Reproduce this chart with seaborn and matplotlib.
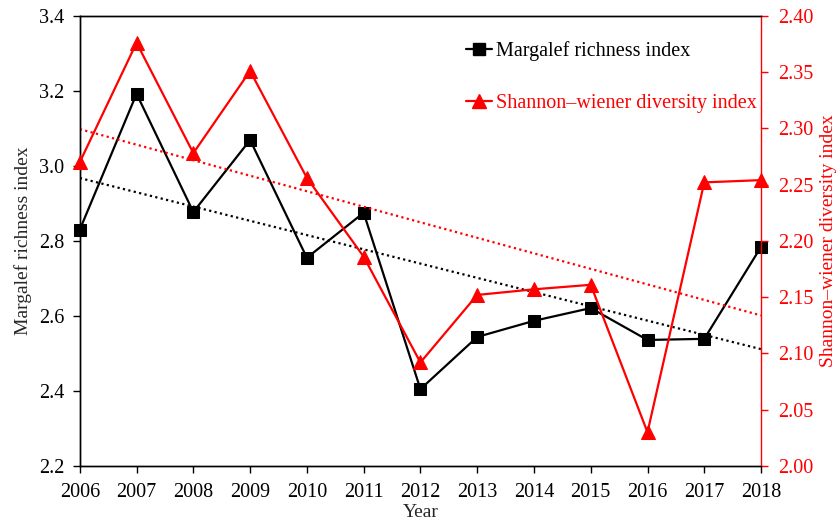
import numpy as np
import pandas as pd
import matplotlib
matplotlib.use("Agg")
import matplotlib.pyplot as plt
import seaborn as sns
from matplotlib.lines import Line2D

years = [2006, 2007, 2008, 2009, 2010, 2011, 2012, 2013, 2014, 2015, 2016, 2017, 2018]
margalef = [2.830, 3.192, 2.877, 3.069, 2.755, 2.875, 2.405, 2.544, 2.587, 2.621, 2.536, 2.539, 2.784]
shannon = [2.270, 2.376, 2.278, 2.351, 2.256, 2.186, 2.092, 2.152, 2.157, 2.161, 2.030, 2.252, 2.254]

df = pd.DataFrame({"Year": years, "Margalef": margalef, "Shannon": shannon})

sns.set_style("ticks")
plt.rcParams['font.family'] = ['Liberation Serif', 'DejaVu Serif']
plt.rcParams['font.size'] = 14

fig, ax = plt.subplots(figsize=(8.4, 5.26), dpi=100)
fig.subplots_adjust(left=0.095, right=0.906, top=0.97, bottom=0.114)
ax2 = ax.twinx()

# trend lines (least squares, dotted)
sns.regplot(data=df, x="Year", y="Margalef", ax=ax, scatter=False, ci=None,
            line_kws=dict(color="black", linestyle=(0, (1, 1.5)), linewidth=1.6))
sns.regplot(data=df, x="Year", y="Shannon", ax=ax2, scatter=False, ci=None,
            line_kws=dict(color="red", linestyle=(0, (1, 1.5)), linewidth=1.6))

sns.lineplot(data=df, x="Year", y="Margalef", ax=ax, color="black", marker="s",
             markersize=9, linewidth=1.6, markeredgecolor="black", clip_on=False, zorder=5)
sns.lineplot(data=df, x="Year", y="Shannon", ax=ax2, color="red", marker="^",
             markersize=10, linewidth=1.6, markeredgecolor="red", clip_on=False, zorder=5)

ax.set_xlim(2006, 2018)
ax.set_xticks(years)
ax.set_ylim(2.2, 3.4)
ax.set_yticks(np.arange(2.2, 3.41, 0.2))
ax.set_yticklabels([f"{v:.1f}" for v in np.arange(2.2, 3.41, 0.2)])
ax2.set_ylim(2.0, 2.4)
ax2.set_yticks(np.arange(2.0, 2.401, 0.05))
ax2.set_yticklabels([f"{v:.2f}" for v in np.arange(2.0, 2.401, 0.05)])

ax.set_xlabel("Year", fontsize=14, labelpad=2)
ax.set_ylabel("Margalef richness index", fontsize=14, labelpad=5)
ax2.set_ylabel("Shannon\u2013wiener diversity index", fontsize=14, color="red", labelpad=5)

for a in (ax, ax2):
    for s in a.spines.values():
        s.set_linewidth(1.0)
        s.set_color("black")
ax2.spines["right"].set_color("red")
ax.spines["right"].set_visible(False)
ax.tick_params(axis="x", direction="out", length=5, width=1, labelsize=14.5, colors="black", pad=7)
ax.tick_params(axis="y", direction="out", length=5, width=1, labelsize=14.5, colors="black", pad=6)
ax2.tick_params(axis="y", direction="out", length=5, width=1, labelsize=14.5, colors="red", pad=7)

handles = [
    Line2D([], [], color="black", marker="s", markersize=9, linewidth=1.6),
    Line2D([], [], color="red", marker="^", markersize=10, linewidth=1.6),
]
ax2.legend(handles, ["Margalef richness index", "Shannon\u2013wiener diversity index"],
           loc="upper left", bbox_to_anchor=(0.54, 0.985), frameon=False,
           fontsize=14.5, labelcolor=["black", "red"], handlelength=1.3,
           handletextpad=0.2, labelspacing=1.65)

fig.savefig("out.png", dpi=100)
